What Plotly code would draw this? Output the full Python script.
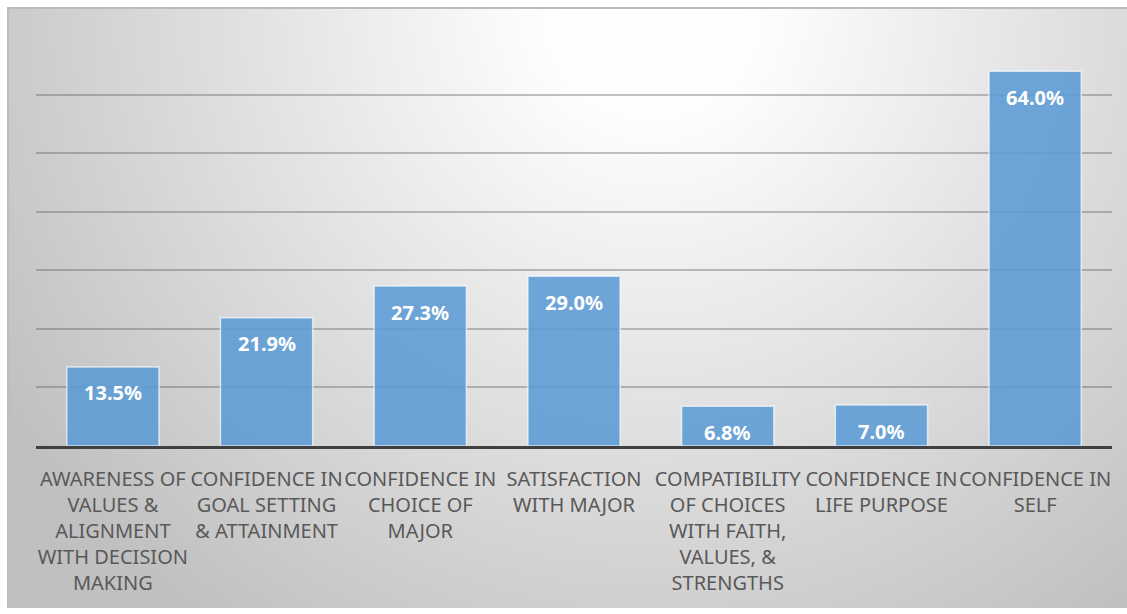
import base64
import plotly.graph_objects as go

# =====================================================================
# Data
categories = [
    "AWARENESS OF<br>VALUES &<br>ALIGNMENT<br>WITH DECISION<br>MAKING",
    "CONFIDENCE IN<br>GOAL SETTING<br>& ATTAINMENT",
    "CONFIDENCE IN<br>CHOICE OF<br>MAJOR",
    "SATISFACTION<br>WITH MAJOR",
    "COMPATIBILITY<br>OF CHOICES<br>WITH FAITH,<br>VALUES, &<br>STRENGTHS",
    "CONFIDENCE IN<br>LIFE PURPOSE",
    "CONFIDENCE IN<br>SELF",
]
values = [13.5, 21.9, 27.3, 29.0, 6.8, 7.0, 64.0]
value_labels = ["13.5%", "21.9%", "27.3%", "29.0%", "6.8%", "7.0%", "64.0%"]

W, H = 1127, 614

# =====================================================================
# Background: radial grey gradient like the Office chart area
svg = f"""<svg xmlns='http://www.w3.org/2000/svg' width='1120' height='601' viewBox='0 0 1120 601' preserveAspectRatio='none'>
<defs><radialGradient id='g' gradientUnits='userSpaceOnUse' cx='645' cy='0' r='760'>
<stop offset='0' stop-color='#ffffff'/><stop offset='0.15' stop-color='#fdfdfd'/><stop offset='1' stop-color='#c0c0c0'/>
</radialGradient></defs>
<rect x='0' y='0' width='1120' height='601' fill='url(#g)'/>
<line x1='0' y1='1' x2='1120' y2='1' stroke='#bcbcbc' stroke-width='2'/>
<line x1='1' y1='0' x2='1' y2='601' stroke='#bdbdbd' stroke-width='2'/>
</svg>"""
bg_src = "data:image/svg+xml;base64," + base64.b64encode(svg.encode()).decode()

fig = go.Figure()
fig.add_trace(go.Bar(
    x=categories, y=values,
    marker=dict(color="rgba(91,155,213,0.88)",
                line=dict(color="rgba(255,255,255,0.65)", width=1.5)),
    hoverinfo="skip",
))

# value labels inside the top of each bar
for c, v, t in zip(categories, values, value_labels):
    fig.add_annotation(x=c, y=v, text=t, showarrow=False, yanchor="middle", yshift=-26,
                       font=dict(family="Noto Sans", size=20, color="white", weight="bold"))

fig.add_layout_image(dict(source=bg_src, xref="paper", yref="paper",
                          x=7 / W, y=1 - 7 / H, sizex=1120 / W, sizey=601 / H,
                          xanchor="left", yanchor="top", sizing="stretch", layer="below"))

fig.update_layout(
    width=W, height=H,
    margin=dict(l=0, r=0, t=0, b=0),
    paper_bgcolor="white",
    plot_bgcolor="rgba(0,0,0,0)",
    showlegend=False,
    bargap=0.4,
    xaxis=dict(domain=[36 / W, 1112 / W], showgrid=False, automargin=False,
               showline=True, linecolor="#404040", linewidth=3, tickangle=0,
               tickfont=dict(family="Noto Sans", size=20, color="#595959"),
               ticklabelstandoff=13, fixedrange=True),
    yaxis=dict(domain=[(H - 446) / H, (H - 36) / H], range=[0, 70], dtick=10,
               showgrid=True, gridcolor="rgba(80,80,80,0.35)", gridwidth=2,
               zeroline=False, showticklabels=False, automargin=False, fixedrange=True),
)

fig.write_html("out.html", config={"displayModeBar": False},
               post_script="document.body.style.margin='0';")
